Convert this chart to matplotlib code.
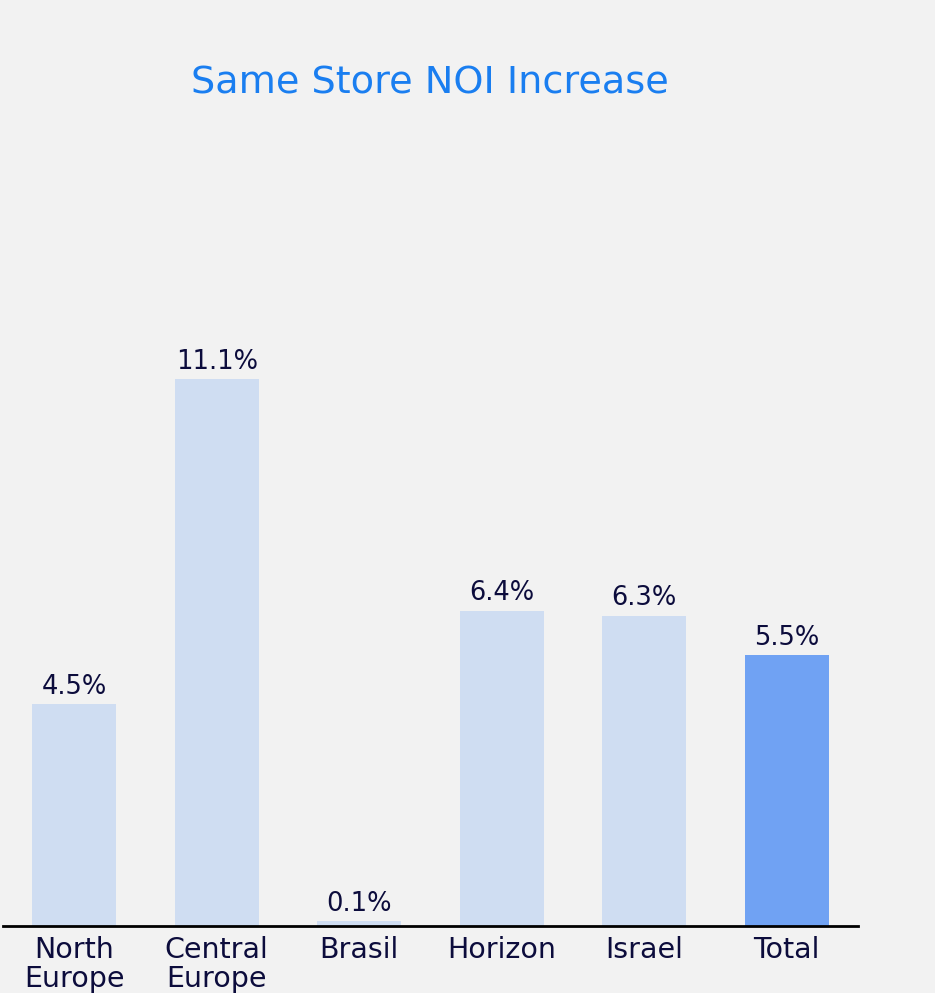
import matplotlib
matplotlib.use("Agg")
import matplotlib.pyplot as plt

categories = ["North\nEurope", "Central\nEurope", "Brasil", "Horizon", "Israel", "Total"]
values = [4.5, 11.1, 0.1, 6.4, 6.3, 5.5]
labels = ["4.5%", "11.1%", "0.1%", "6.4%", "6.3%", "5.5%"]
colors = ["#cfddf2"] * 5 + ["#70a2f3"]

W, H = 935, 993
fig = plt.figure(figsize=(W / 100, H / 100), dpi=100, facecolor="#f2f2f2")
ax_left, ax_right = 3, 858
ax_bottom, ax_top = 926, 0
ax = fig.add_axes([ax_left / W, 1 - ax_bottom / H, (ax_right - ax_left) / W, (ax_bottom - ax_top) / H])
ax.set_facecolor("#f2f2f2")

x = list(range(len(categories)))
ax.bar(x, values, width=0.59, color=colors, zorder=2)
ax.set_xlim(-0.5, 5.5)
ax.set_ylim(0, 926 / 49.28)

font = ["DejaVu Sans"]
txtc = "#0c0c3c"
for xi, v, lab in zip(x, values, labels):
    ax.annotate(lab, (xi, v), xytext=(0, 3), textcoords="offset points",
                ha="center", va="bottom", fontsize=18.5, color=txtc, family=font)

ax.set_xticks(x)
ax.set_xticklabels(categories, fontsize=20.5, color=txtc, family=font, linespacing=1.05)
ax.tick_params(axis="x", length=0, pad=7)
ax.set_yticks([])
for s in ["top", "right", "left"]:
    ax.spines[s].set_visible(False)
ax.spines["bottom"].set_color("black")
ax.spines["bottom"].set_linewidth(2)

fig.text(430 / W, 1 - 83 / H, "Same Store NOI Increase", ha="center", va="center",
         fontsize=27.5, color="#1a7ef0", family=font)

fig.savefig("out.png", dpi=100, facecolor=fig.get_facecolor())
